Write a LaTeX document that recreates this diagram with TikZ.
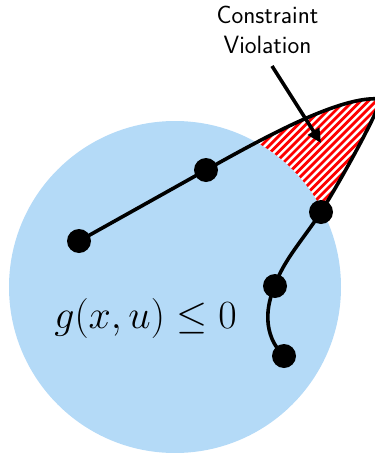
\documentclass[tikz,border=0pt]{standalone}
\usepackage{fix-cm}
\usetikzlibrary{arrows.meta}
\definecolor{regionblue}{RGB}{180,218,247}
\tikzset{
  dot/.style={circle,fill=black,inner sep=0pt,minimum size=24pt},
  traj/.style={line width=3.6pt,line join=round},
  hatchline/.style={red,line width=2.8pt},
  callout/.style={line width=3.6pt,-{Triangle[length=14pt,width=13pt]}},
  region/.style={circle,fill=regionblue,inner sep=0pt,minimum size=332pt},
  labeltext/.style={font=\fontsize{25}{30}\selectfont\sffamily,align=center,inner sep=0pt},
  mathtext/.style={font=\fontsize{40}{48}\selectfont,inner sep=0pt}
}
\begin{document}
\begin{tikzpicture}[x=1pt,y=-1pt]
\useasboundingbox (0,0) rectangle (375,453);
\clip (0,0) rectangle (375,453);
% trajectory points
\coordinate (p1) at (79,241);
\coordinate (p2) at (206,170);
\coordinate (tip) at (380,99);
\coordinate (p3) at (321,212);
\coordinate (p4) at (275,286);
\coordinate (p5) at (284,356);
% hatched violation region
\begin{scope}
  \clip (p2) .. controls (260,140) and (340,95) .. (tip)
        .. controls (384,100) and (350,165) .. (p3) -- cycle;
  \foreach \c in {290,297.8,...,630}
    \draw[hatchline] (\c-40,40) -- (\c-260,260);
\end{scope}
% feasible region
\node[region] (feas) at (175,287) {};
\node[mathtext,anchor=base] (g) at (145.5,328) {$g(x,u)\leq 0$};
% trajectory
\draw[traj] (p1) -- (p2) .. controls (260,140) and (340,95) .. (tip)
  .. controls (384,100) and (350,165) .. (p3)
  .. controls (305,237) and (282,262) .. (p4)
  .. controls (266,305) and (262,335) .. (p5);
\node[dot] (d1) at (p1) {};
\node[dot] (d2) at (p2) {};
\node[dot] (d3) at (p3) {};
\node[dot] (d4) at (p4) {};
\node[dot] (d5) at (p5) {};
% label
\node[labeltext,anchor=north] (lab) at (267.5,5.5) {Constraint\\Violation};
\coordinate (atail) at (272,66);
\coordinate (ahead) at (321,143);
\draw[callout] (atail) -- (ahead);
\end{tikzpicture}
\end{document}
